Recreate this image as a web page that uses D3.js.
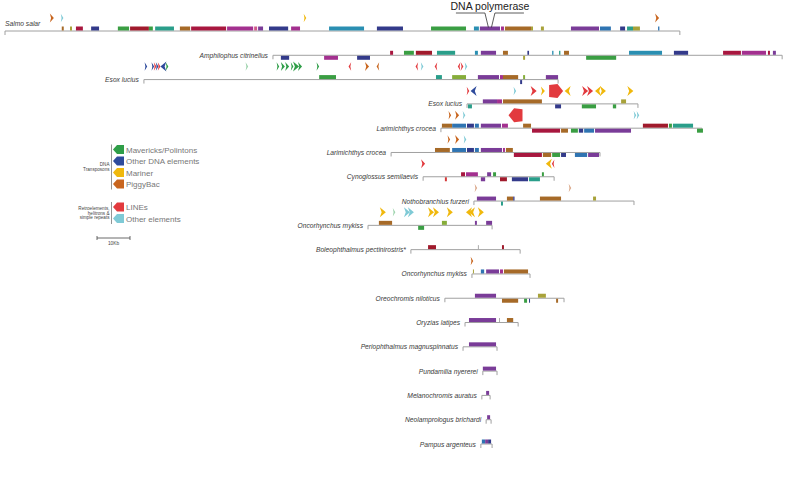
<!DOCTYPE html>
<html><head><meta charset="utf-8">
<script src="https://cdn.jsdelivr.net/npm/d3@7"></script>
<style>
html,body{margin:0;padding:0;background:#fff;}
svg{display:block;font-family:"Liberation Sans",Arial,sans-serif;}
</style></head>
<body><svg id="c" width="800" height="478"></svg>
<script>
// ---------- DATA (positions in kb) ----------
const trackNames = ["Salmo salar","Amphilophus citrinellus","Esox lucius","Esox lucius","Larimichthys crocea","Larimichthys crocea","Cynoglossus semilaevis","Nothobranchius furzeri","Oncorhynchus mykiss","Boleophthalmus pectinirostris*","Oncorhynchus mykiss","Oreochromis niloticus","Oryzias latipes","Periophthalmus magnuspinnatus","Pundamilia nyererei","Melanochromis auratus","Neolamprologus brichardi","Pampus argenteus"];
const trackStart = [0,81.2,42.1,140.0,132.1,117.0,126.7,142.1,110.0,123.0,141.5,133.3,139.4,138.8,144.8,144.5,145.8,144.2];
const trackEnd   = [204.5,235.5,167.6,191.8,211.2,180.3,166.4,190.6,147.6,156.1,159.1,169.4,155.5,149.1,149.1,147.0,147.3,147.6];

// [track, start kb, end kb, colour class, strand]
const blocks = [
[0,17.2,17.8,"brown","+"],[0,19.7,20.3,"olive","+"],[0,21.5,23.6,"crimson","+"],[0,26.1,28.5,"navy","+"],
[0,34.2,37.6,"green","+"],[0,37.9,43.6,"darkred","+"],[0,43.6,44.8,"green","+"],[0,45.5,51.2,"teal","+"],
[0,53.0,56.1,"brown","+"],[0,56.4,67.0,"crimson","+"],[0,67.3,75.2,"magenta","+"],[0,75.5,76.4,"pink","+"],
[0,76.7,78.2,"purple","+"],[0,80.0,85.8,"navy","+"],[0,86.7,89.4,"magenta","+"],[0,98.2,108.8,"tealblue","+"],
[0,112.7,120.6,"navy","+"],[0,129.1,139.7,"green","+"],[0,142.1,143.6,"tealblue","+"],[0,143.9,150.0,"purple","+"],
[0,150.3,151.2,"magenta","+"],[0,151.5,159.4,"brown","+"],[0,159.4,160.0,"olive","+"],[0,162.4,163.3,"olive","+"],
[0,171.5,180.0,"purple","+"],[0,180.3,183.6,"blue","+"],[0,186.4,187.9,"navy","+"],[0,188.5,190.3,"teal","+"],
[0,190.3,192.4,"olive","+"],[0,197.9,198.3,"blue","+"],
[1,83.6,86.1,"navy","-"],[1,96.7,100.9,"magenta","-"],[1,106.7,110.6,"navy","-"],[1,116.7,117.6,"crimson","+"],
[1,120.9,123.9,"green","+"],[1,124.5,129.4,"darkred","+"],[1,130.9,136.4,"teal","+"],[1,142.4,143.3,"tealblue","+"],
[1,144.2,148.8,"purple","+"],[1,150.9,152.4,"brown","+"],[1,157.0,157.6,"olive","-"],[1,158.3,158.8,"navy","+"],
[1,165.8,166.2,"tealblue","+"],[1,167.9,168.3,"teal","+"],[1,169.4,170.9,"brown","+"],[1,176.1,185.2,"green","-"],
[1,189.1,199.1,"tealblue","+"],[1,202.7,207.0,"navy","+"],[1,217.6,223.0,"crimson","+"],[1,223.3,230.6,"magenta","+"],
[1,231.2,231.8,"crimson","+"],[1,232.7,233.6,"purple","+"],
[2,95.2,100.3,"green","+"],[2,130.6,132.4,"teal","+"],[2,135.5,139.7,"lime","+"],[2,143.3,149.7,"purple","+"],
[2,150.0,150.9,"magenta","+"],[2,150.9,155.5,"brown","+"],[2,156.1,156.7,"navy","-"],[2,157.0,157.6,"lime","+"],
[2,163.9,167.6,"purple","+"],
[3,140.3,141.5,"teal","-"],[3,144.8,149.1,"purple","+"],[3,149.1,150.6,"magenta","+"],[3,150.9,162.7,"brown","+"],
[3,166.7,168.5,"navy","-"],[3,174.8,179.1,"green","-"],[3,184.2,185.2,"green","-"],[3,186.7,188.2,"olive","+"],
[4,132.4,135.5,"brown","+"],[4,135.5,139.7,"blue","+"],[4,140.0,142.1,"navy","+"],[4,142.4,143.6,"blue","+"],
[4,144.2,150.3,"purple","+"],[4,150.6,152.4,"magenta","+"],[4,157.0,159.4,"brown","+"],[4,159.7,168.2,"crimson","-"],
[4,168.5,170.6,"brown","-"],[4,171.5,173.6,"green","-"],[4,173.9,175.2,"navy","-"],[4,175.5,178.5,"blue","-"],
[4,178.8,189.7,"purple","-"],[4,193.3,200.9,"darkred","+"],[4,201.2,202.1,"green","+"],[4,202.4,208.5,"teal","+"],
[4,209.7,211.5,"green","-"],
[5,130.3,134.8,"brown","+"],[5,135.5,139.7,"blue","+"],[5,140.0,142.1,"navy","+"],[5,142.4,143.6,"blue","+"],
[5,144.2,150.6,"purple","+"],[5,150.9,151.5,"magenta","+"],[5,151.8,153.9,"brown","+"],[5,154.2,162.7,"crimson","-"],
[5,163.0,165.5,"brown","-"],[5,165.8,168.2,"green","-"],[5,168.5,170.0,"navy","-"],[5,172.7,176.4,"blue","-"],
[5,176.7,180.0,"purple","-"],
[6,133.3,133.9,"red","-"],[6,138.2,139.4,"crimson","+"],[6,139.7,143.3,"magenta","+"],[6,144.2,145.5,"purple","-"],
[6,146.1,147.3,"purple","+"],[6,147.9,148.8,"green","+"],[6,150.0,152.1,"darkred","-"],[6,153.6,158.5,"navy","-"],
[6,158.8,162.1,"teal","-"],[6,162.7,163.3,"green","+"],
[7,143.0,148.8,"purple","+"],[7,150.3,150.9,"teal","-"],[7,152.1,154.0,"brown","+"],[7,154.0,154.4,"navy","+"],
[7,162.1,168.5,"brown","+"],[7,178.2,179.1,"olive","+"],
[8,113.3,117.3,"brown","+"],[8,125.2,127.0,"green","-"],[8,132.4,133.9,"lime","+"],[8,142.4,143.0,"purple","+"],
[8,145.8,147.6,"purple","+"],
[9,128.2,130.6,"darkred","+"],[9,143.3,143.6,"gray","+"],[9,150.6,151.2,"darkred","+"],
[10,141.8,142.1,"olive","+"],[10,144.2,145.2,"blue","+"],[10,145.8,149.7,"purple","+"],[10,150.0,150.9,"magenta","+"],
[10,151.2,158.5,"brown","+"],
[11,142.4,148.8,"purple","+"],[11,150.6,155.5,"brown","-"],[11,157.3,158.2,"green","-"],[11,158.8,159.1,"navy","-"],
[11,161.5,163.9,"olive","+"],[11,167.0,167.6,"brown","-"],
[12,140.6,148.8,"purple","+"],[12,149.7,150.0,"gray","+"],[12,152.1,154.0,"brown","+"],
[13,140.6,148.8,"purple","+"],
[14,144.8,148.8,"purple","+"],
[15,145.8,146.7,"purple","+"],
[16,146.1,147.0,"purple","+"],
[17,144.5,145.5,"blue","+"],[17,145.5,146.4,"purple","+"],[17,146.4,147.3,"navy","+"]
];

// [track, position kb, element class, direction, size class]
const arrows = [
[0,14.2,"pig","r","s"],[0,17.3,"oth","r","t"],[0,90.9,"mar","r","t"],[0,197.6,"pig","r","s"],
[2,42.7,"dna","r","t"],[2,44.8,"dna","r","t"],[2,45.5,"line","r","t"],[2,46.1,"dna","r","t"],[2,46.7,"line","r","t"],
[2,48.0,"dna","l","m"],[2,49.1,"mav","r","t"],[2,73.3,"pale","r","t"],
[2,82.7,"mav","r","t"],[2,84.2,"mav","r","s"],[2,85.5,"mav","r","s"],[2,87.0,"mav","r","t"],[2,88.2,"mav","r","m"],
[2,89.4,"mav","r","s"],[2,94.8,"mav","r","t"],[2,104.5,"line","l","t"],[2,109.7,"pig","r","s"],[2,113.0,"pig","l","t"],
[2,124.8,"line","l","t"],[2,126.4,"oth","r","t"],[2,130.6,"line","l","t"],[2,137.6,"line","l","t"],[2,138.5,"line","r","t"],
[2,139.7,"oth","r","t"],
[3,140.3,"line","r","t"],[3,142.0,"dna","l","m"],[3,154.5,"oth","r","t"],[3,160.2,"line","r","m"],[3,163.0,"mar","r","s"],
[3,167.0,"line","r","L"],[3,170.5,"mar","l","m"],[3,175.8,"line","r","m"],[3,177.3,"line","r","m"],[3,179.7,"mar","l","m"],
[3,181.2,"mar","r","m"],[3,189.5,"mar","r","m"],
[4,134.8,"pig","r","t"],[4,137.0,"pig","r","s"],[4,139.1,"oth","r","t"],[4,154.7,"line","l","L"],[4,190.9,"oth","r","t"],[4,191.8,"oth","r","t"],
[5,134.5,"pig","r","t"],[5,137.0,"pig","r","s"],[5,139.4,"oth","r","t"],
[6,126.7,"line","r","s"],[6,164.8,"mar","l","m"],[6,166.1,"line","l","t"],
[7,142.7,"tan","r","t"],[7,171.2,"tan","r","t"],
[8,114.5,"mar","r","m"],[8,117.9,"pale","r","t"],[8,121.8,"oth","r","m"],[8,123.0,"oth","r","m"],[8,129.1,"mar","r","m"],
[8,130.6,"mar","r","m"],[8,134.8,"mar","r","m"],[8,140.6,"mar","l","m"],[8,141.5,"mar","l","m"],[8,144.2,"mar","r","m"],
[10,141.5,"pig","r","t"]
];

const annotationText = "DNA polymerase";
const annotationSpan = [143.9, 150.0];   // Salmo salar DNA polymerase block

const legendGroups = [["DNA","Transposons"],["Retroelements,","helitrons &","simple repeats"]];
const legendItems = [["Mavericks/Polintons","mav",0],["Other DNA elements","dna",0],["Mariner","mar",0],["PiggyBac","pig",0],["LINEs","line",1],["Other elements","oth",1]];
const scaleBarKb = 10;
const scaleBarLabel = "10Kb";

// ---------- STYLES ----------
const blockColor = {crimson:"#a8173f",darkred:"#a01a2c",magenta:"#a3308f",purple:"#7a3c98",navy:"#333a8a",
  blue:"#2f74b2",teal:"#2a9e8a",tealblue:"#2a8fb2",green:"#3a9e43",brown:"#a66a28",olive:"#a8a23a",
  lime:"#86ad3a",pink:"#cf5a8a",red:"#d43a3a",gray:"#aaaaaa"};
const elemColor = {mav:"#2f9e48",dna:"#2e4b9c",mar:"#f0b80c",pig:"#c8651e",line:"#e23a3e",oth:"#7fcad6",
  pale:"#9fd4ae",tan:"#dba88a"};
const arrowSize = {t:[2.6,8.5],s:[4,9],m:[6,10],L:[14,14]};

// ---------- SCALES ----------
const svg = d3.select("#c");
const x = d3.scaleLinear().domain([0,240]).range([5,797]);
const y = d3.scalePoint().domain(d3.range(trackNames.length)).range([31,444]);
const BH = 4;           // block height
const ARROW_OFF = 13;   // arrow row above track

// tracks
const tg = svg.append("g");
trackNames.forEach((name,i)=>{
  const yy = y(i), x0 = x(trackStart[i]), x1 = x(trackEnd[i]);
  tg.append("path")
    .attr("d",`M${x0},${yy+4}V${yy}H${x1}V${yy+4}`)
    .attr("fill","none").attr("stroke","#a0a0a0").attr("stroke-width",1);
  const t = tg.append("text").text(name)
    .attr("font-style","italic").attr("font-size",6.7).attr("fill","#3a3a3a");
  if(i===0){ t.attr("x",x0).attr("y",yy-5).attr("text-anchor","start"); }
  else { t.attr("x",x0-5).attr("y",yy+2.5).attr("text-anchor","end"); }
});

// blocks
svg.append("g").selectAll("rect").data(blocks).join("rect")
  .attr("x",d=>x(d[1]))
  .attr("width",d=>Math.max(0.8,x(d[2])-x(d[1])))
  .attr("y",d=>d[4]==="+" ? y(d[0])-BH-0.5 : y(d[0])+0.5)
  .attr("height",BH)
  .attr("fill",d=>blockColor[d[3]]);

// arrows
function arrowPts(cx,cy,dir,sz){
  const [w,h]=arrowSize[sz]; const s = dir==="r"?1:-1;
  if(sz==="L"){
    return [[cx-s*w/2,cy-h/2+1],[cx+s*w*0.1,cy-h/2],[cx+s*w/2,cy],[cx+s*w*0.1,cy+h/2],[cx-s*w/2,cy+h/2-1]];
  }
  return [[cx-s*w/2,cy-h/2],[cx+s*w/2,cy],[cx-s*w/2,cy+h/2],[cx-s*w/2+s*w*0.3,cy]];
}
svg.append("g").selectAll("polygon").data(arrows).join("polygon")
  .attr("points",d=>arrowPts(x(d[1]),y(d[0])-ARROW_OFF,d[3],d[4]).map(p=>p.join(",")).join(" "))
  .attr("fill",d=>elemColor[d[2]]);

// annotation
const ax0 = x(annotationSpan[0]), ax1 = x(annotationSpan[1]), am = (ax0+ax1)/2;
svg.append("text").attr("x",am).attr("y",10).attr("text-anchor","middle")
  .attr("font-size",10.5).attr("fill","#222").text(annotationText);
svg.append("path")
  .attr("d",`M${am-34},13H${am-5}L${am-1.5},27.5M${am+1.5},27.5L${am+5},13H${am+34}`)
  .attr("fill","none").attr("stroke","#333").attr("stroke-width",0.8);

// legend
const lg = svg.append("g");
const ly = (i,g)=>149.5 + i*11.5 + g*11.5;
legendItems.forEach((d,i)=>{
  const cy = ly(i,d[2]);
  lg.append("polygon")
    .attr("points",[[113,cy],[117,cy-4.5],[124,cy-4.5],[124,cy+4.5],[117,cy+4.5]].map(p=>p.join(",")).join(" "))
    .attr("fill",elemColor[d[1]]);
  lg.append("text").attr("x",126).attr("y",cy+3).attr("font-size",8).attr("fill","#777").text(d[0]);
});
// group bars and labels
[[0,3],[4,5]].forEach((r,g)=>{
  const yA = ly(r[0],g)-5, yB = ly(r[1],g)+5.5;
  lg.append("line").attr("x1",111.5).attr("x2",111.5).attr("y1",yA).attr("y2",yB)
    .attr("stroke","#888").attr("stroke-width",0.9);
  const lines = legendGroups[g];
  const mid = (yA+yB)/2;
  lines.forEach((s,k)=>{
    lg.append("text").attr("x",109.5).attr("y",mid + (k-(lines.length-1)/2)*4.5 + 1.5)
      .attr("text-anchor","end").attr("font-size",4.6).attr("fill","#444").text(s);
  });
});
// scale bar
const sb0 = 97, sb1 = sb0 + (x(scaleBarKb)-x(0)), sby = 238;
lg.append("path").attr("d",`M${sb0},${sby-2}V${sby+2}M${sb0},${sby}H${sb1}M${sb1},${sby-2}V${sby+2}`)
  .attr("stroke","#444").attr("stroke-width",0.8).attr("fill","none");
lg.append("text").attr("x",(sb0+sb1)/2).attr("y",sby+7).attr("text-anchor","middle")
  .attr("font-size",4.8).attr("fill","#444").text(scaleBarLabel);
</script></body></html>
